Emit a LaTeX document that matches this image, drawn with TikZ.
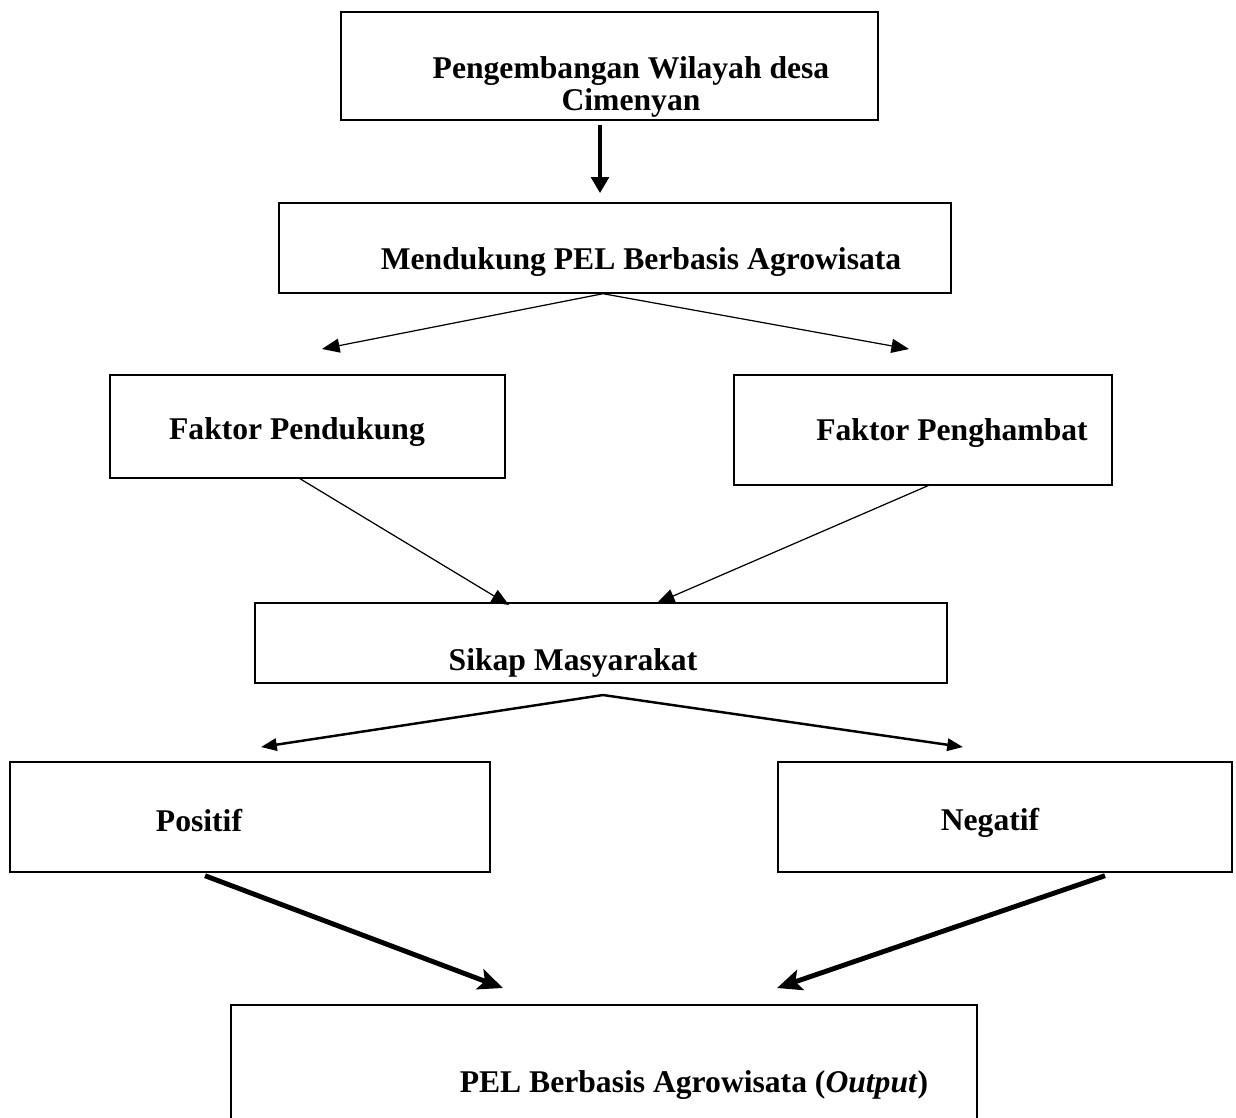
\documentclass[tikz,border=0pt]{standalone}
\usepackage{fontspec}
\setmainfont{Liberation Serif}
\usetikzlibrary{arrows.meta}

\begin{document}
\begin{tikzpicture}[x=0.02cm, y=-0.02cm,
    box/.style={draw, line width=0.8pt, inner sep=0pt},
    lbl/.style={font=\fontsize{18}{18}\selectfont\bfseries, inner sep=0pt, align=center},
    downarr/.style={line width=2pt, -{Triangle[length=9pt,width=10pt]}},
    thinarr/.style={line width=0.7pt, -{Triangle[length=10pt,width=8pt]}},
    midarr/.style={line width=1.4pt, -{Triangle[length=9pt,width=7pt]}},
    fatarr/.style={line width=2.8pt, -{Stealth[length=14pt,width=12pt,inset=3pt]}}]
  \useasboundingbox (0,0) rectangle (1236,1117);
  \clip (0,0) rectangle (1236,1117);

  % kotak
  \node[box, minimum width=10.74cm, minimum height=2.16cm] (wil) at (609.5,66) {};
  \node[box, minimum width=13.44cm, minimum height=1.8cm] (pel) at (615,248) {};
  \node[box, minimum width=7.9cm, minimum height=2.06cm] (pend) at (307.5,426.5) {};
  \node[box, minimum width=7.56cm, minimum height=2.2cm] (hamb) at (923,430) {};
  \node[box, minimum width=13.84cm, minimum height=1.6cm] (sikap) at (601,643) {};
  \node[box, minimum width=9.6cm, minimum height=2.2cm] (pos) at (250,817) {};
  \node[box, minimum width=9.08cm, minimum height=2.2cm] (neg) at (1005,817) {};
  \node[box, minimum width=14.92cm, minimum height=3.1cm] (out) at (604,1082.5) {};

  % teks
  \node[lbl] (twil) at (631,87) {Pengembangan Wilayah desa\\Cimenyan};
  \node[lbl] (tpel) at (641,262) {Mendukung PEL Berbasis Agrowisata};
  \node[lbl] (tpend) at (297,432) {Faktor Pendukung};
  \node[lbl] (thamb) at (952,433) {Faktor Penghambat};
  \node[lbl] (tsikap) at (573,663) {Sikap Masyarakat};
  \node[lbl] (tpos) at (199,820) {Positif};
  \node[lbl] (tneg) at (990,823) {Negatif};
  \node[lbl] (tout) at (694,1085) {PEL Berbasis Agrowisata (\textit{Output})};

  % ujung panah
  \coordinate (e1) at (600,193);
  \coordinate (e2) at (322,349);
  \coordinate (e3) at (909,349);
  \coordinate (e4) at (509,605);
  \coordinate (e5) at (657,603);
  \coordinate (s6) at (603,695);
  \coordinate (e6) at (261,747);
  \coordinate (e7) at (963,747);
  \coordinate (e8) at (503,988);
  \coordinate (e9) at (777,988);

  \draw[downarr] ([yshift=-0.08cm]wil.south -| e1) -- (e1);
  \draw[thinarr] ([xshift=-0.24cm]pel.south) -- (e2);
  \draw[thinarr] ([xshift=-0.24cm]pel.south) -- (e3);
  \draw[thinarr] ([xshift=-0.15cm]pend.south) -- (e4);
  \draw[thinarr] ([xshift=0.1cm]hamb.south) -- (e5);
  \draw[midarr] (s6) -- (e6);
  \draw[midarr] (s6) -- (e7);
  \draw[fatarr] ([xshift=-0.9cm,yshift=-0.06cm]pos.south) -- (e8);
  \draw[fatarr] ([xshift=2cm,yshift=-0.06cm]neg.south) -- (e9);
\end{tikzpicture}
\end{document}
